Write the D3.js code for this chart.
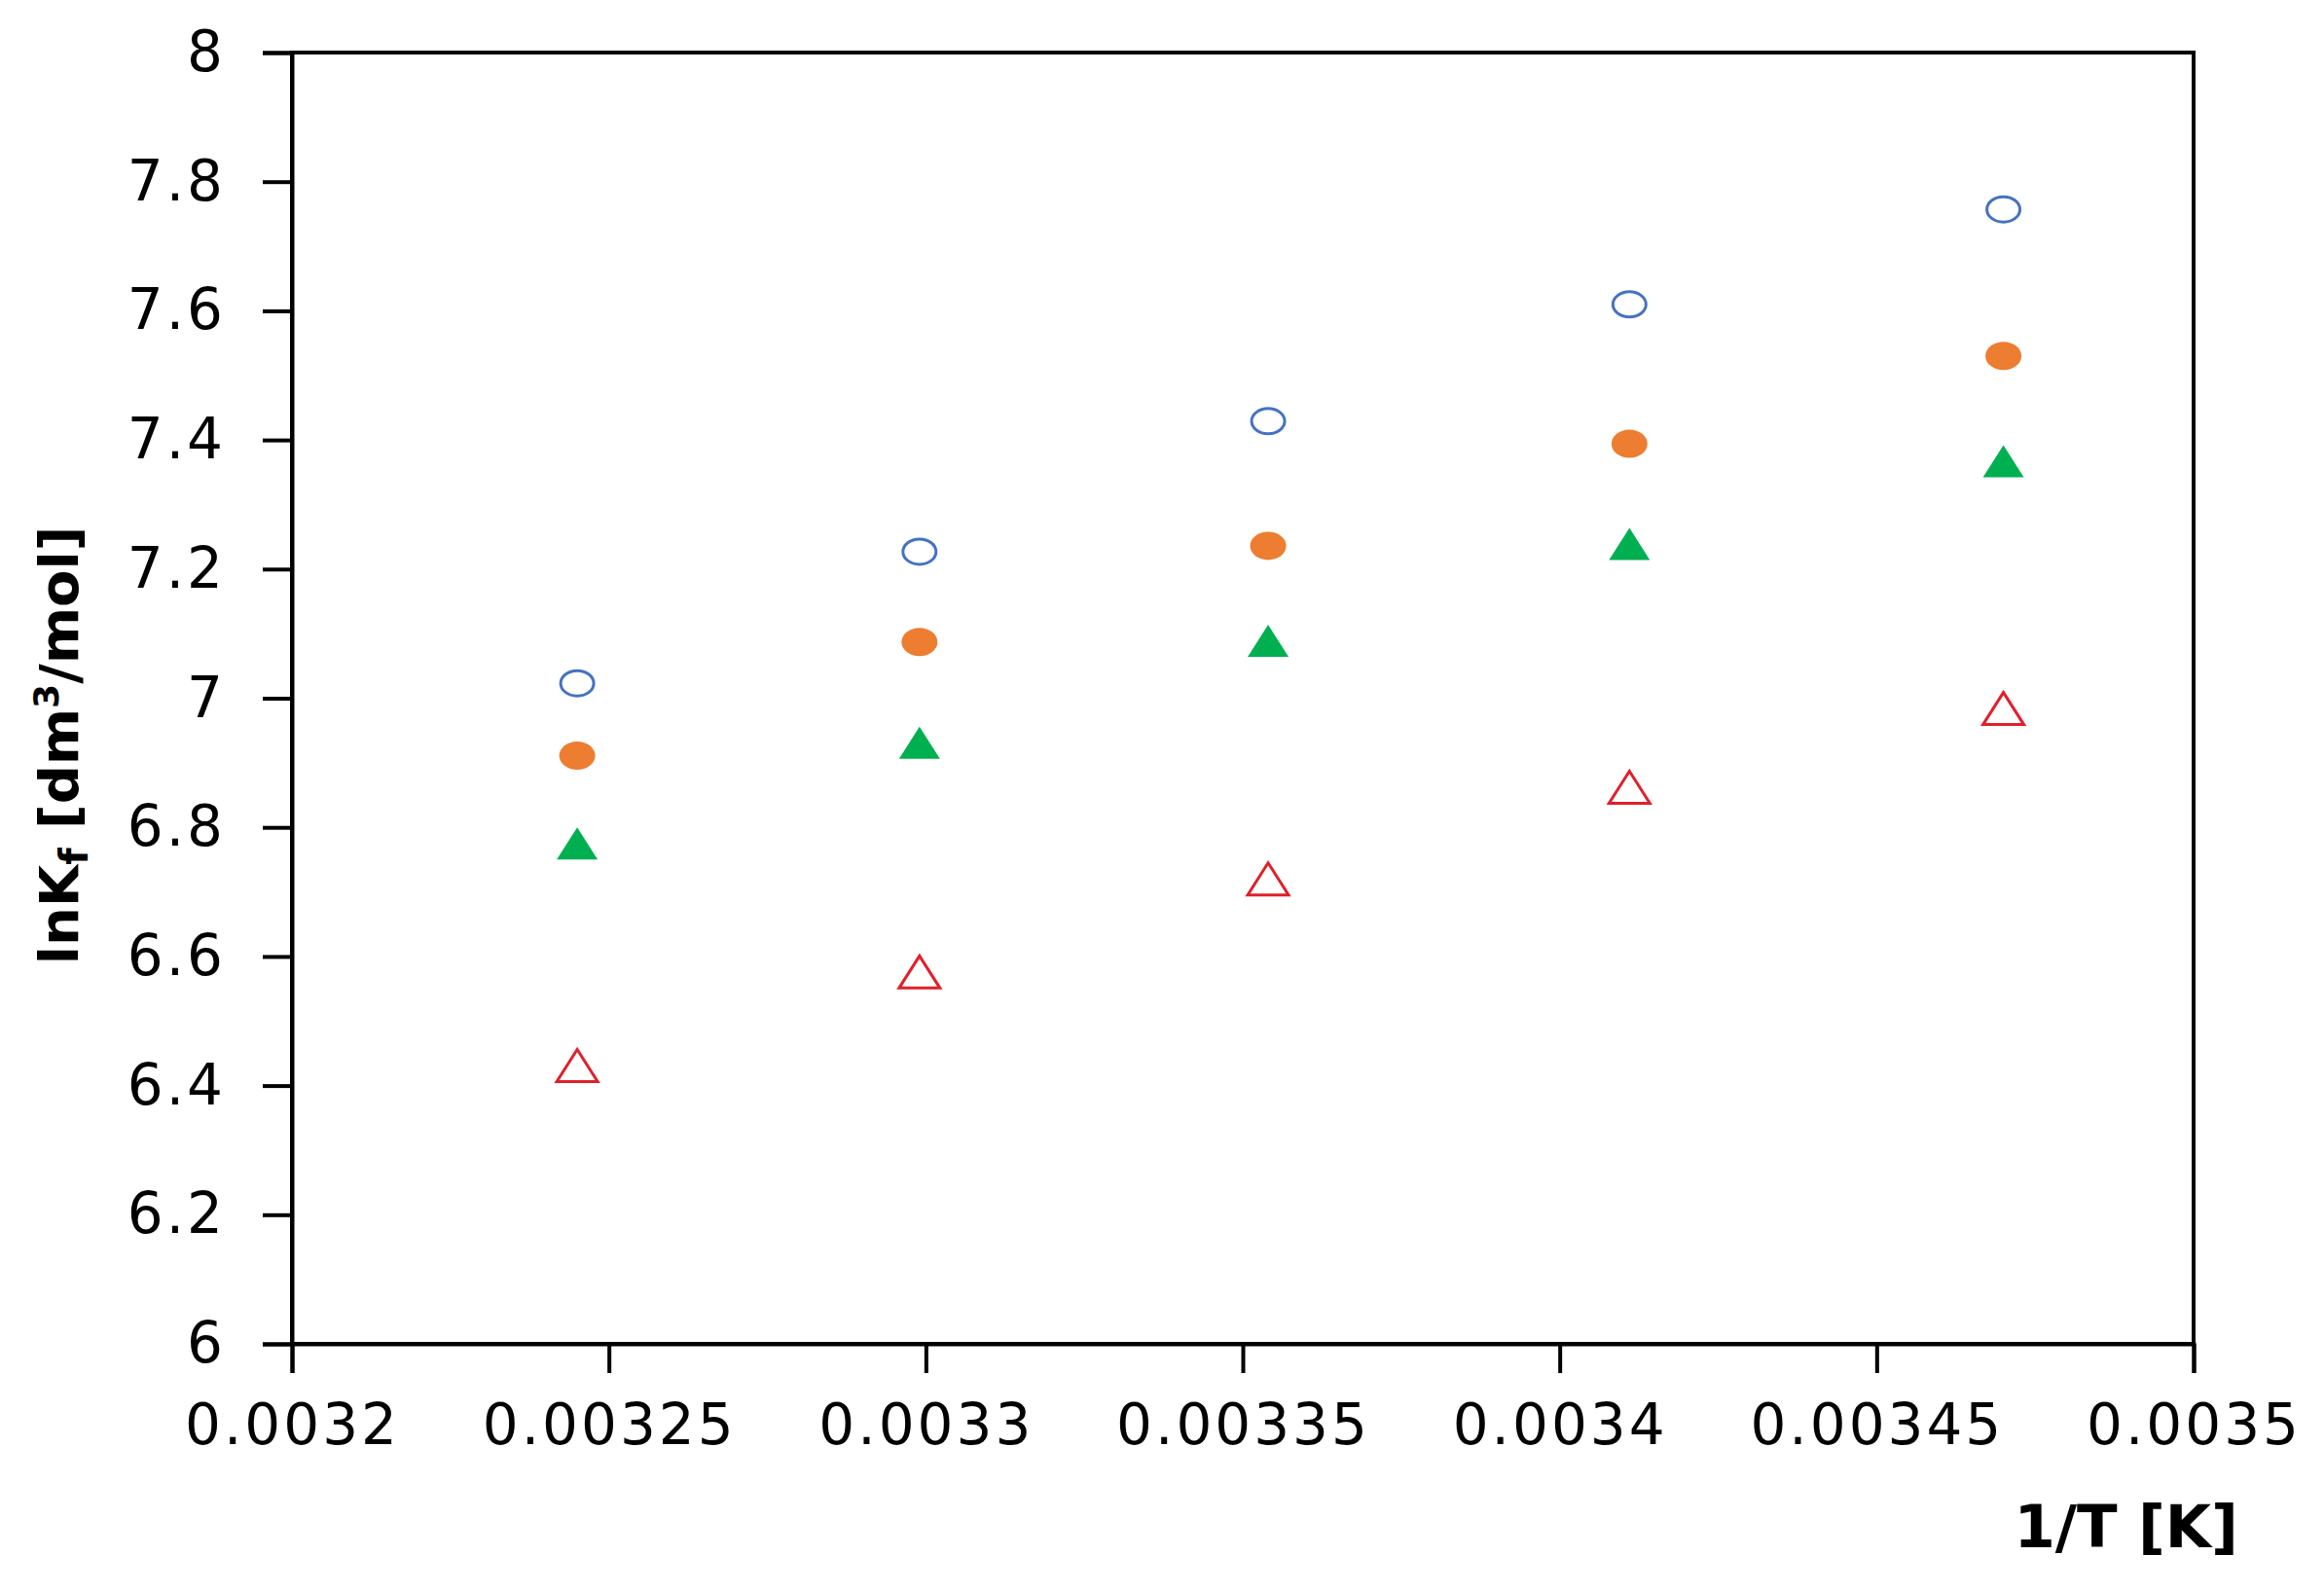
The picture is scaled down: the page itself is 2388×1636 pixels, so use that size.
<!DOCTYPE html>
<html><head><meta charset="utf-8">
<script src="https://cdn.jsdelivr.net/npm/d3@7"></script>
<style>
html,body{margin:0;padding:0;background:#fff;}
svg{display:block;}
.tick text{font-family:"DejaVu Sans",Verdana,sans-serif;font-size:58px;fill:#000;letter-spacing:3px;}
</style></head>
<body>
<script>
const xValues = [0.003245, 0.003299, 0.003354, 0.003411, 0.003470];
const seriesBlueOpenCircle = [7.023, 7.227, 7.429, 7.610, 7.757];
const seriesOrangeCircle   = [6.911, 7.087, 7.236, 7.394, 7.530];
const seriesGreenTriangle  = [6.775, 6.931, 7.089, 7.239, 7.367];
const seriesRedOpenTriangle= [6.431, 6.576, 6.720, 6.862, 6.984];
const xTicks = [0.0032, 0.00325, 0.0033, 0.00335, 0.0034, 0.00345, 0.0035];
const xTickLabels = ["0.0032","0.00325","0.0033","0.00335","0.0034","0.00345","0.0035"];
const yTicks = [6, 6.2, 6.4, 6.6, 6.8, 7, 7.2, 7.4, 7.6, 7.8, 8];
const yTickLabels = ["6","6.2","6.4","6.6","6.8","7","7.2","7.4","7.6","7.8","8"];

const W = 2388, H = 1636;
const m = {left:300, right:134, top:54, bottom:255};
const svg = d3.select("body").append("svg").attr("width", W).attr("height", H);
const x = d3.scaleLinear().domain([0.0032, 0.0035]).range([m.left, W - m.right]);
const y = d3.scaleLinear().domain([6, 8]).range([H - m.bottom, m.top]);

// frame
svg.append("rect").attr("x", m.left).attr("y", m.top)
  .attr("width", W - m.left - m.right).attr("height", H - m.top - m.bottom)
  .attr("fill", "none").attr("stroke", "#000").attr("stroke-width", 4);

const xAxis = d3.axisBottom(x).tickValues(xTicks)
  .tickFormat((d,i) => xTickLabels[i]).tickSize(30).tickPadding(32);
const gx = svg.append("g").attr("transform", `translate(0,${H - m.bottom})`).call(xAxis);
const yAxis = d3.axisLeft(y).tickValues(yTicks)
  .tickFormat((d,i) => yTickLabels[i]).tickSize(30).tickPadding(38);
const gy = svg.append("g").attr("transform", `translate(${m.left},0)`).call(yAxis);
[gx, gy].forEach(g => {
  g.select(".domain").attr("stroke", "#000").attr("stroke-width", 4);
  g.selectAll(".tick line").attr("stroke", "#000").attr("stroke-width", 4);
});

// axis titles
svg.append("text").attr("x", W - 88).attr("y", 1590)
  .attr("text-anchor", "end")
  .style("font-family", '"DejaVu Sans",Verdana,sans-serif')
  .style("font-weight", "bold").style("font-size", "61px")
  .text("1/T [K]");

const yt = svg.append("text")
  .attr("transform", `translate(80,766) rotate(-90)`)
  .attr("text-anchor", "middle")
  .style("font-family", '"DejaVu Sans",Verdana,sans-serif')
  .style("font-weight", "bold").style("font-size", "56px");
yt.append("tspan").text("lnK");
yt.append("tspan").attr("dy", 10).style("font-size", "40px").text("f");
yt.append("tspan").attr("dy", -10).text(" [dm");
yt.append("tspan").attr("dy", -20).style("font-size", "36px").text("3");
yt.append("tspan").attr("dy", 20).text("/mol]");

// markers
const EW = 37, EH = 29, TW = 42, TH = 33;
function trianglePath(cx, cy) {
  const p = d3.path();
  p.moveTo(cx - TW/2, cy + TH/2);
  p.lineTo(cx + TW/2, cy + TH/2);
  p.lineTo(cx, cy - TH/2);
  p.closePath();
  return p.toString();
}
const series = [
  {vals: seriesBlueOpenCircle, shape: "ellipse", fill: "#fff", stroke: "#4472C4"},
  {vals: seriesOrangeCircle, shape: "ellipse", fill: "#ED7D31", stroke: "none"},
  {vals: seriesGreenTriangle, shape: "tri", fill: "#00B050", stroke: "none"},
  {vals: seriesRedOpenTriangle, shape: "tri", fill: "#fff", stroke: "#E0202A"}
];
series.forEach(s => {
  const pts = xValues.map((xv, i) => ({x: xv, y: s.vals[i]}));
  if (s.shape === "ellipse") {
    svg.append("g").selectAll("ellipse").data(pts).join("ellipse")
      .attr("cx", d => x(d.x)).attr("cy", d => y(d.y))
      .attr("rx", s.stroke === "none" ? EW/2 : EW/2 - 1.5)
      .attr("ry", s.stroke === "none" ? EH/2 : EH/2 - 1.5)
      .attr("fill", s.fill).attr("stroke", s.stroke).attr("stroke-width", 3);
  } else {
    svg.append("g").selectAll("path").data(pts).join("path")
      .attr("d", d => trianglePath(x(d.x), y(d.y)))
      .attr("fill", s.fill).attr("stroke", s.stroke).attr("stroke-width", 3)
      .attr("stroke-linejoin", "miter");
  }
});
</script>
</body></html>
